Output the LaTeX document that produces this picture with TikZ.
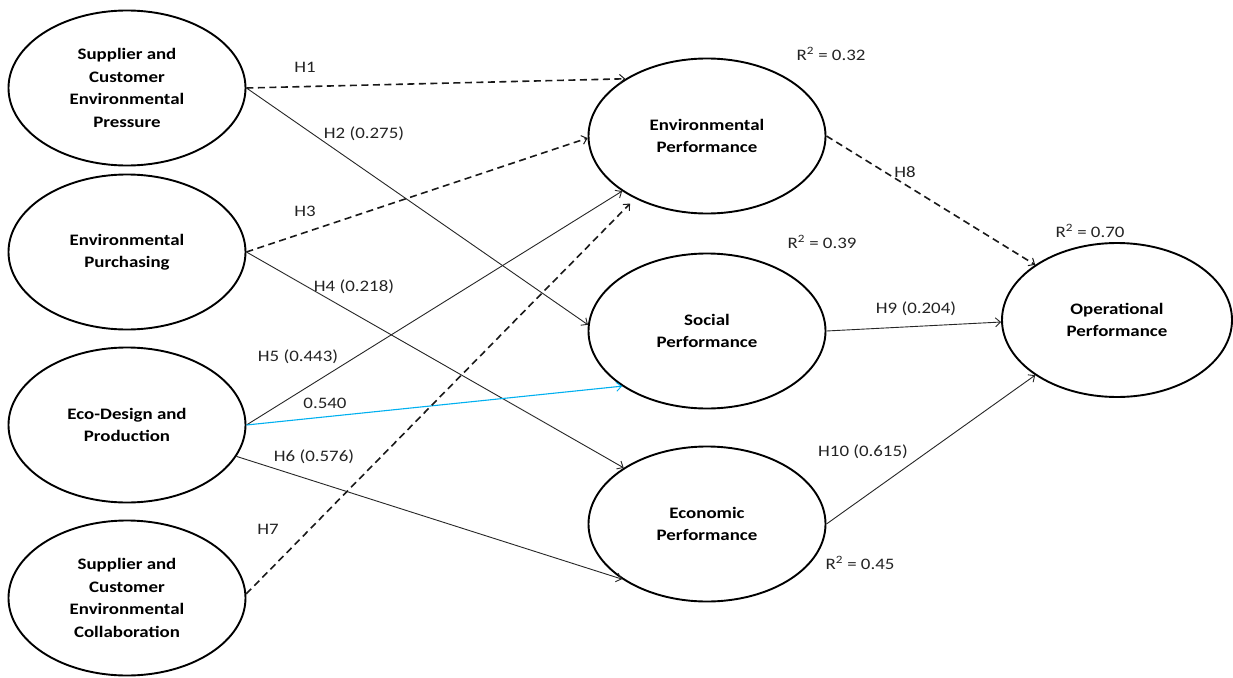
\documentclass[tikz,border=0pt]{standalone}
\usepackage{fontspec}
\setmainfont{Carlito}[FakeStretch=1.18]
\usetikzlibrary{shapes.geometric,arrows.meta}
\definecolor{lblcol}{RGB}{35,35,35}
\definecolor{skyline}{RGB}{0,176,240}
\begin{document}
\begin{tikzpicture}[x=1pt,y=-1pt,
  lat/.style={ellipse,draw=black,line width=1.9pt,minimum width=237pt,minimum height=155pt,
    inner sep=0pt,align=center,text=black,font=\fontsize{16}{22.5}\selectfont\bfseries},
  link/.style={line width=0.9pt,draw=black!85,-{Straight Barb[length=5pt,width=9pt,line width=0.9pt]}},
  dlink/.style={line width=1.6pt,draw=black!90,dash pattern=on 7pt off 4.5pt,
    -{Straight Barb[length=5pt,width=9pt,line width=1pt]}},
  blink/.style={link,draw=skyline,line width=1.1pt},
  lab/.style={inner sep=0pt,text=lblcol,font=\fontsize{16}{19}\selectfont}
]
\useasboundingbox[fill=white] (0,0) rectangle (1233,677);

% latent constructs
\node[lat] (scp) at (127,88) {Supplier and\\Customer\\Environmental\\Pressure};
\node[lat] (epur) at (127,252) {Environmental\\Purchasing};
\node[lat] (edp) at (127,425) {Eco-Design and\\Production};
\node[lat] (scc) at (127,598) {Supplier and\\Customer\\Environmental\\Collaboration};
\node[lat] (env) at (707,136) {Environmental\\Performance};
\node[lat] (soc) at (707,331) {Social\\Performance};
\node[lat] (eco) at (707,524) {Economic\\Performance};
\node[lat,minimum width=230pt,minimum height=154pt] (op) at (1117,320) {Operational\\Performance};

% paths
\draw[dlink] (scp.east) -- (env.145);
\draw[link] (scp.east) -- (soc.177);
\draw[dlink] (epur.east) -- (env.181);
\draw[link] (epur.east) -- (eco.146);
\draw[link] (edp.east) -- (env.213);
\draw[blink] (edp.east) -- (soc.213);
\draw[link] (edp.344) -- (eco.213);
\draw[dlink,shorten >=7pt] (scc.2) -- (env.221);
\draw[dlink] (env.east) -- (op.146);
\draw[link] (soc.east) -- (op.181);
\draw[link] (eco.east) -- (op.214);

% path labels
\node[lab] (h1) at (305,67) {H1};
\node[lab] (h2) at (364,134) {H2 (0.275)};
\node[lab] (h3) at (305,211) {H3};
\node[lab] (h4) at (354,287) {H4 (0.218)};
\node[lab] (h5) at (298,357) {H5 (0.443)};
\node[lab] (b540) at (325,403) {0.540};
\node[lab] (h6) at (314,457) {H6 (0.576)};
\node[lab] (h7) at (268,529) {H7};
\node[lab] (h8) at (905,172) {H8};
\node[lab] (h9) at (916,309) {H9 (0.204)};
\node[lab] (h10) at (863,452) {H10 (0.615)};

% R squared
\node[lab] (r1) at (831,54) {R\textsuperscript{2} = 0.32};
\node[lab] (r2) at (822,242) {R\textsuperscript{2} = 0.39};
\node[lab] (r3) at (1090,231) {R\textsuperscript{2} = 0.70};
\node[lab] (r4) at (860,563) {R\textsuperscript{2} = 0.45};
\end{tikzpicture}
\end{document}
